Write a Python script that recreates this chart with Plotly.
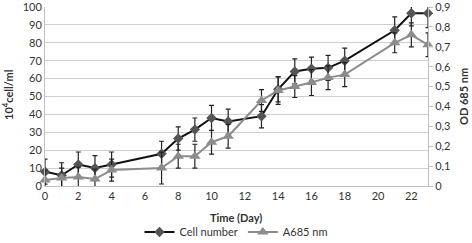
import plotly.graph_objects as go

days = [0, 1, 2, 3, 4, 7, 8, 9, 10, 11, 13, 14, 15, 16, 17, 18, 21, 22, 23]
cell_number = [8, 6, 12, 10, 12, 18, 26.5, 31.5, 38, 36, 39, 54, 64, 65.5, 66, 70, 87, 96.5, 96.5]
cell_err = [7, 7, 7, 7, 7, 7, 6.5, 6.5, 7, 7, 6.5, 7, 7, 6.5, 7, 7, 7.5, 7, 8]
a685 = [0.03, 0.04, 0.045, 0.035, 0.08, 0.09, 0.15, 0.15, 0.22, 0.25, 0.43, 0.48, 0.50, 0.52, 0.545, 0.56, 0.72, 0.76, 0.71]
a685_err = [0.05, 0.05, 0.05, 0.05, 0.055, 0.08, 0.06, 0.06, 0.06, 0.06, 0.055, 0.07, 0.055, 0.065, 0.06, 0.06, 0.05, 0.06, 0.06]

x_title = "Time (Day)"
y_title = "10<sup>4</sup>cell/ml"
y2_title = "OD 685 nm"

FONT = "Lato"
TXT = "#333333"
W, H = 472, 243
plot_l, plot_r, plot_t, plot_b = 45, 428, 7, 186

fig = go.Figure()
fig.add_trace(go.Scatter(
    x=days, y=cell_number, name="Cell number", mode="lines+markers",
    line=dict(color="#111111", width=2),
    marker=dict(symbol="diamond", size=8, color="#555555"),
    error_y=dict(type="data", array=cell_err, color="#222222", thickness=1.2, width=2.5),
    cliponaxis=False,
))
fig.add_trace(go.Scatter(
    x=days, y=a685, name="A685 nm", mode="lines+markers", yaxis="y2",
    line=dict(color="#8c8c8c", width=2),
    marker=dict(symbol="triangle-up", size=10, color="#8c8c8c"),
    error_y=dict(type="data", array=a685_err, color="#222222", thickness=1.2, width=2.5),
    cliponaxis=False,
))


def to_paper(px, py):
    return (px - plot_l) / (plot_r - plot_l), (plot_b - py) / (plot_b - plot_t)


ann = []
for text, (px, py), ang in [(x_title, (236, 217), 0), (y_title, (7, 95), -90), (y2_title, (463, 96), -90)]:
    x, y = to_paper(px, py)
    ann.append(dict(text="<b>" + text + "</b>", x=x, y=y, xref="paper", yref="paper",
                    xanchor="center", yanchor="middle", showarrow=False, textangle=ang,
                    font=dict(size=11, color=TXT)))

fig.update_layout(
    width=W, height=H,
    margin=dict(l=plot_l, r=W - plot_r, t=plot_t, b=H - plot_b, autoexpand=False),
    paper_bgcolor="white", plot_bgcolor="white",
    separators=",.",
    font=dict(family=FONT, size=11, color=TXT),
    showlegend=True,
    legend=dict(orientation="h", x=0.5, xref="container", xanchor="center",
                y=1 - 232 / H, yref="container", yanchor="middle",
                font=dict(size=11, color=TXT), itemwidth=30, tracegroupgap=0),
    xaxis=dict(range=[0, 23], tickvals=list(range(0, 23, 2)), showgrid=False,
               showline=True, linecolor="#bfbfbf", linewidth=1, ticks="",
               zeroline=False, automargin=False, ticklabeloverflow="allow"),
    yaxis=dict(range=[0, 100], tickvals=list(range(0, 101, 10)), showgrid=True,
               gridcolor="#cfcfcf", gridwidth=1, automargin=False, ticklabeloverflow="allow",
               showline=True, linecolor="#bfbfbf", ticks="", zeroline=False),
    yaxis2=dict(range=[0, 0.9], tickvals=[i / 10 for i in range(10)], overlaying="y",
                side="right", showgrid=False, automargin=False, ticklabeloverflow="allow",
                showline=True, linecolor="#bfbfbf", ticks="outside", ticklen=4,
                tickcolor="#bfbfbf", zeroline=False),
    annotations=ann,
)
fig.write_html("out.html", config={"displayModeBar": False},
               post_script="document.body.style.margin='0px';")
